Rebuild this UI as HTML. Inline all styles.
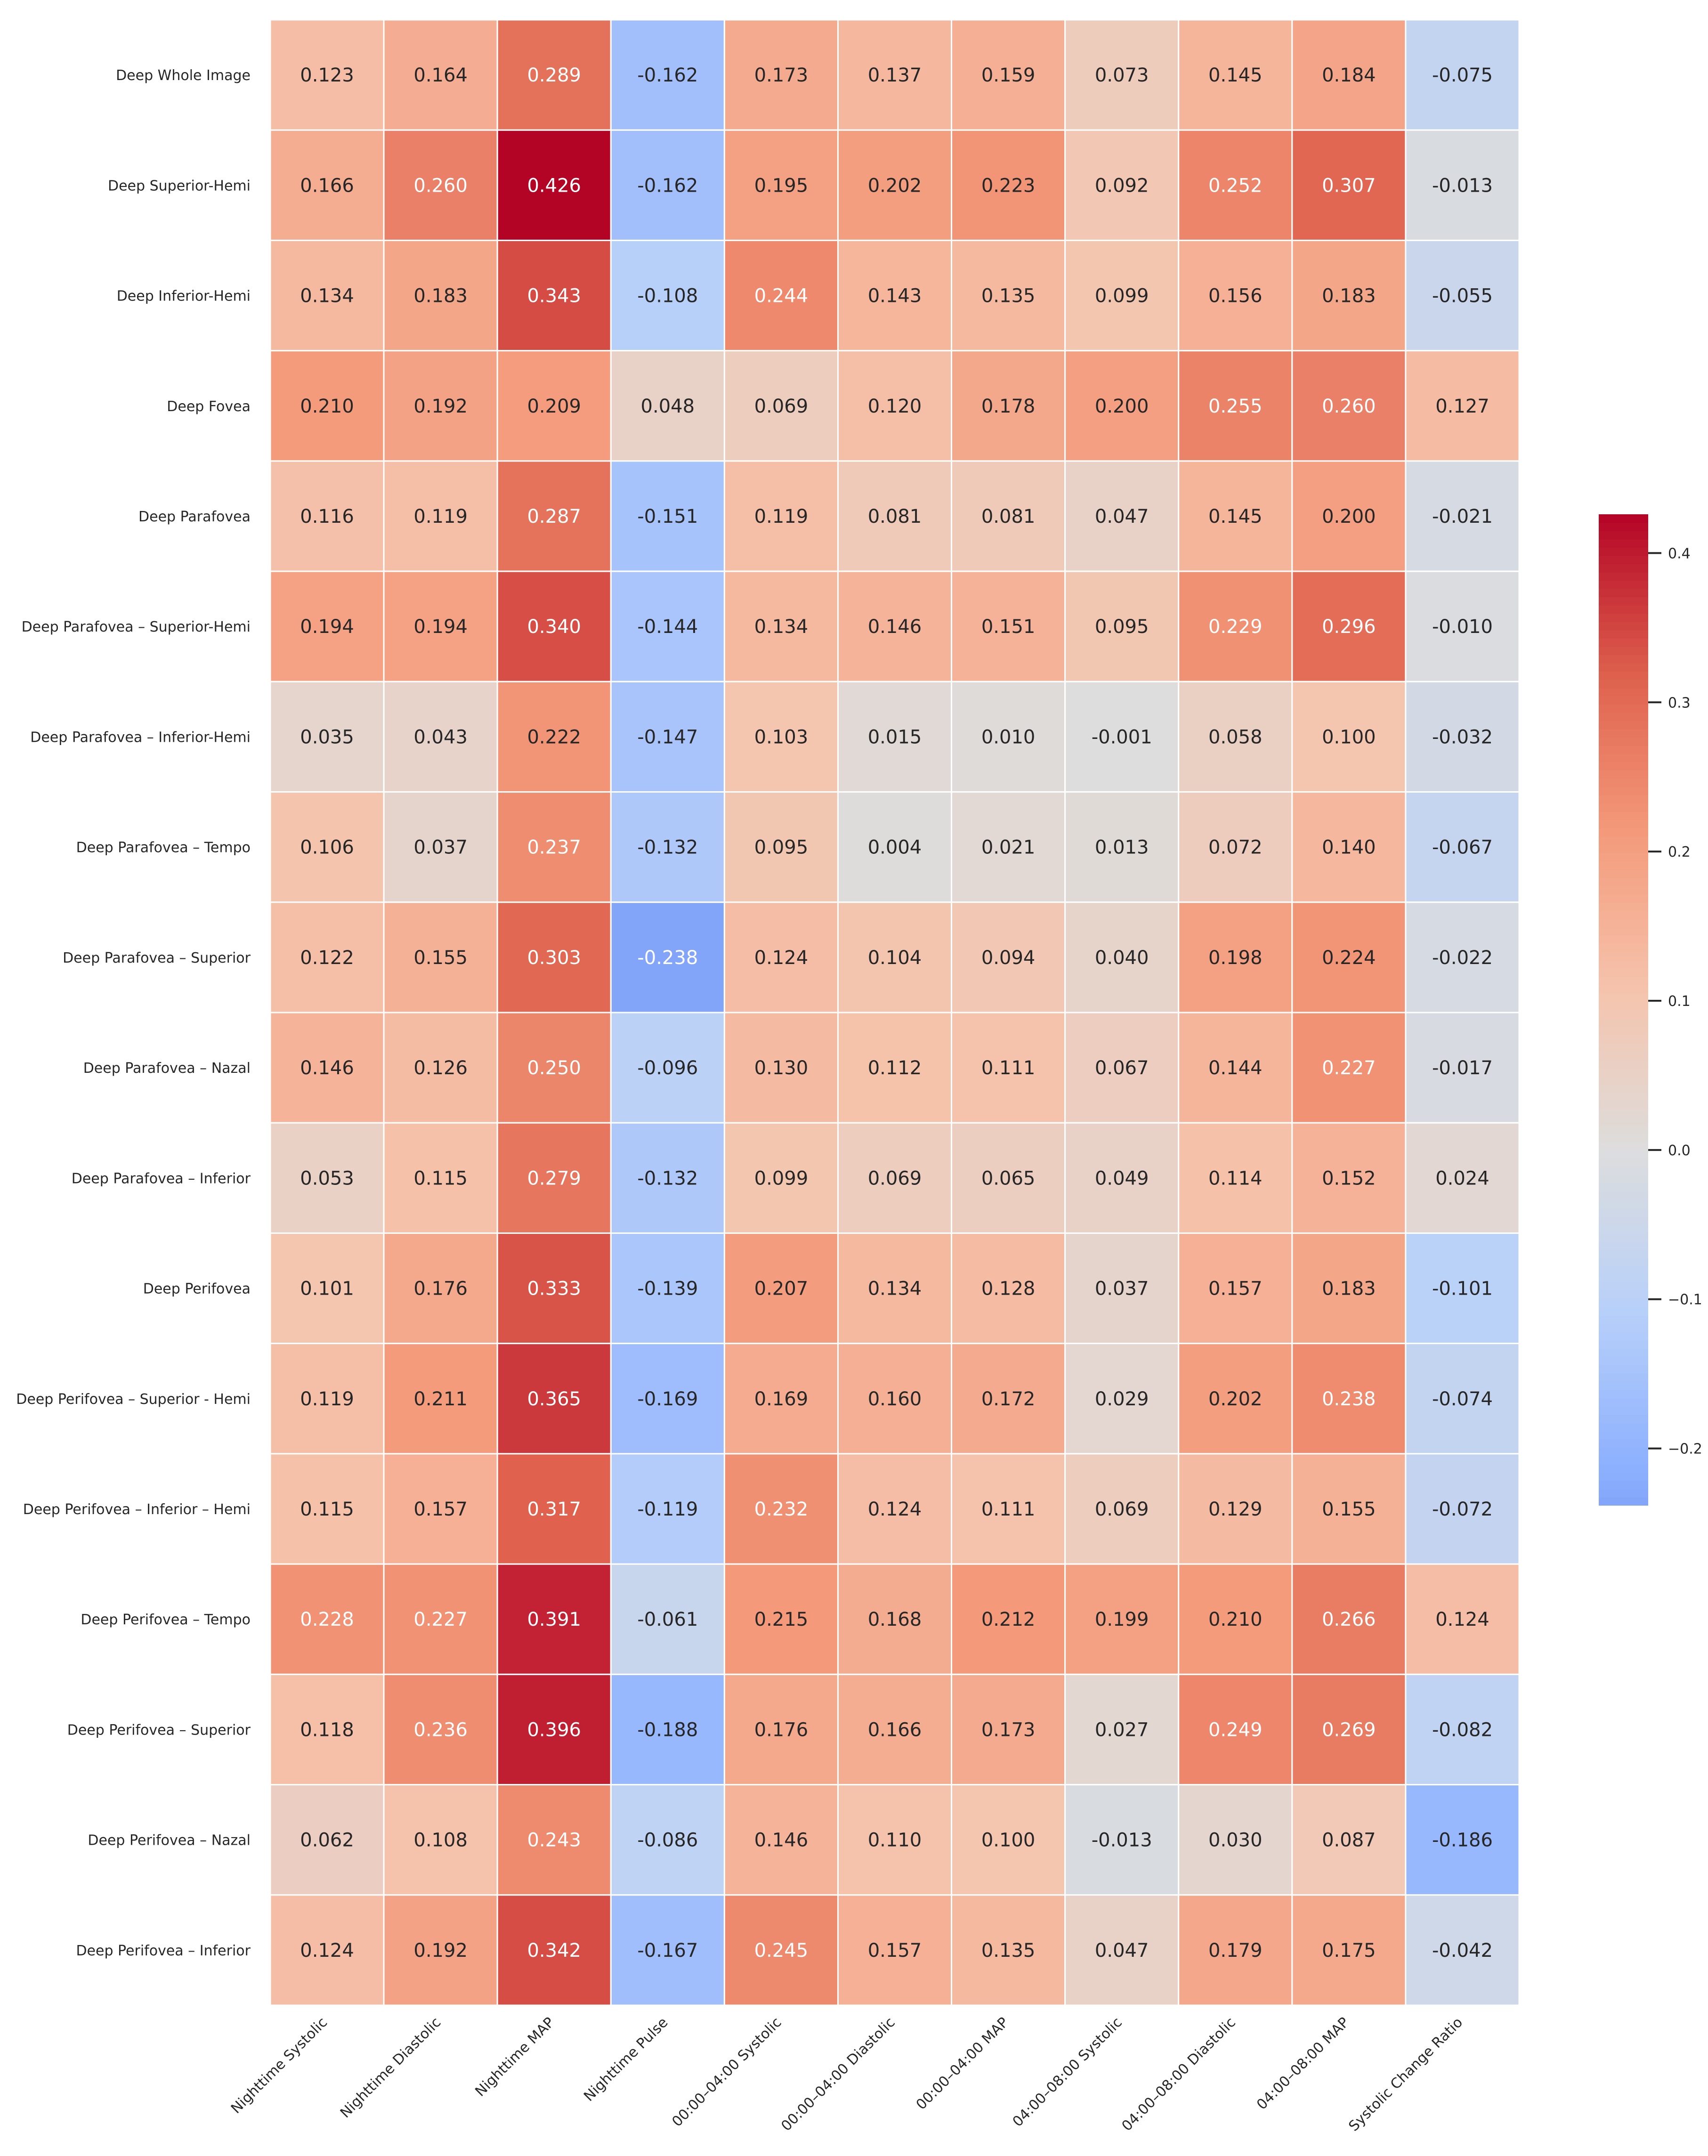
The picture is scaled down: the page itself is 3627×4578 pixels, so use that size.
<!DOCTYPE html>
<html><head><meta charset="utf-8"><style>
html,body{margin:0;padding:0;background:#fff;}
svg text{font-family:"DejaVu Sans","Liberation Sans",sans-serif;}
</style></head><body>
<svg id="chart" width="3627" height="4573" xmlns="http://www.w3.org/2000/svg">
<g id="cells"></g>
<g id="ylabels"></g>
<g id="xlabels"></g>
<g id="cbar"></g>
</svg>
<script>
const rowLabels = ["Deep Whole Image","Deep Superior-Hemi","Deep Inferior-Hemi","Deep Fovea","Deep Parafovea","Deep Parafovea – Superior-Hemi","Deep Parafovea – Inferior-Hemi","Deep Parafovea – Tempo","Deep Parafovea – Superior","Deep Parafovea – Nazal","Deep Parafovea – Inferior","Deep Perifovea","Deep Perifovea – Superior - Hemi","Deep Perifovea – Inferior – Hemi","Deep Perifovea – Tempo","Deep Perifovea – Superior","Deep Perifovea – Nazal","Deep Perifovea – Inferior"];
const colLabels = ["Nighttime Systolic","Nighttime Diastolic","Nighttime MAP","Nighttime Pulse","00:00–04:00 Systolic","00:00–04:00 Diastolic","00:00–04:00 MAP","04:00–08:00 Systolic","04:00–08:00 Diastolic","04:00–08:00 MAP","Systolic Change Ratio"];
const values = [
[0.123,0.164,0.289,-0.162,0.173,0.137,0.159,0.073,0.145,0.184,-0.075],
[0.166,0.260,0.426,-0.162,0.195,0.202,0.223,0.092,0.252,0.307,-0.013],
[0.134,0.183,0.343,-0.108,0.244,0.143,0.135,0.099,0.156,0.183,-0.055],
[0.210,0.192,0.209,0.048,0.069,0.120,0.178,0.200,0.255,0.260,0.127],
[0.116,0.119,0.287,-0.151,0.119,0.081,0.081,0.047,0.145,0.200,-0.021],
[0.194,0.194,0.340,-0.144,0.134,0.146,0.151,0.095,0.229,0.296,-0.010],
[0.035,0.043,0.222,-0.147,0.103,0.015,0.010,-0.001,0.058,0.100,-0.032],
[0.106,0.037,0.237,-0.132,0.095,0.004,0.021,0.013,0.072,0.140,-0.067],
[0.122,0.155,0.303,-0.238,0.124,0.104,0.094,0.040,0.198,0.224,-0.022],
[0.146,0.126,0.250,-0.096,0.130,0.112,0.111,0.067,0.144,0.227,-0.017],
[0.053,0.115,0.279,-0.132,0.099,0.069,0.065,0.049,0.114,0.152,0.024],
[0.101,0.176,0.333,-0.139,0.207,0.134,0.128,0.037,0.157,0.183,-0.101],
[0.119,0.211,0.365,-0.169,0.169,0.160,0.172,0.029,0.202,0.238,-0.074],
[0.115,0.157,0.317,-0.119,0.232,0.124,0.111,0.069,0.129,0.155,-0.072],
[0.228,0.227,0.391,-0.061,0.215,0.168,0.212,0.199,0.210,0.266,0.124],
[0.118,0.236,0.396,-0.188,0.176,0.166,0.173,0.027,0.249,0.269,-0.082],
[0.062,0.108,0.243,-0.086,0.146,0.110,0.100,-0.013,0.030,0.087,-0.186],
[0.124,0.192,0.342,-0.167,0.245,0.157,0.135,0.047,0.179,0.175,-0.042]];
const cbarTicks = [-0.2,-0.1,0.0,0.1,0.2,0.3,0.4];

const NS="http://www.w3.org/2000/svg";
const L=574,R=3226,T=42,B=4258;
const cw=(R-L)/colLabels.length, rh=(B-T)/rowLabels.length;
const flat=values.flat();
const vmax=Math.max(...flat.map(Math.abs)), vmin=-vmax;
const dmin=Math.min(...flat), dmax=Math.max(...flat);
const stops=[[0,[59,76,192]],[0.125,[98,130,234]],[0.25,[141,176,254]],[0.375,[184,208,249]],[0.5,[221,221,221]],[0.625,[245,196,173]],[0.75,[244,154,123]],[0.875,[222,96,77]],[1,[180,4,38]]];
function cmap(v){let t=(v-vmin)/(vmax-vmin);t=Math.max(0,Math.min(1,t));
 for(let i=1;i<stops.length;i++){if(t<=stops[i][0]){const a=stops[i-1],b=stops[i];const f=(t-a[0])/(b[0]-a[0]);return a[1].map((c,k)=>Math.round(c+(b[1][k]-c)*f));}}return stops[8][1];}
function lum(c){const l=c.map(x=>{x/=255;return x<=0.03928?x/12.92:Math.pow((x+0.055)/1.055,2.4);});return 0.2126*l[0]+0.7152*l[1]+0.0722*l[2];}
const xs=j=>L+j*cw, ys=i=>T+i*rh;
function mk(tag,attrs,parent){const e=document.createElementNS(NS,tag);for(const k in attrs)e.setAttribute(k,attrs[k]);parent.appendChild(e);return e;}
const gc=document.getElementById('cells'),gy=document.getElementById('ylabels'),gx=document.getElementById('xlabels'),gb=document.getElementById('cbar');
values.forEach((row,i)=>row.forEach((v,j)=>{
 const c=cmap(v);
 const r=mk('rect',{x:xs(j),y:ys(i),width:cw,height:rh,fill:`rgb(${c})`,stroke:'#fff','stroke-width':3},gc);
 
 
 const t=mk('text',{x:xs(j)+cw/2,y:ys(i)+rh/2+14,'text-anchor':'middle','font-size':40,fill:lum(c)>0.408?'#262626':'#ffffff'},gc);
 t.textContent=v.toFixed(3);
 
 
}));
rowLabels.forEach((s,i)=>{const t=mk('text',{x:L-42,y:ys(i)+rh/2+11,'text-anchor':'end','font-size':30,fill:'#262626'},gy);t.textContent=s;
 
 });
colLabels.forEach((s,j)=>{const cx=xs(j)+cw/2+2,cy=4296;const t=mk('text',{x:cx,y:cy,'text-anchor':'end','font-size':30,fill:'#262626',transform:`rotate(-45 ${cx} ${cy})`},gx);t.textContent=s;
 
 });
// colorbar
const CL=3395,CR=3500,CT=1092,CB=3196;
const cy=v=>CB-(v-dmin)/(dmax-dmin)*(CB-CT);
const N=120;
for(let k=0;k<N;k++){const v0=dmin+(dmax-dmin)*k/N,v1=dmin+(dmax-dmin)*(k+1)/N;const c=cmap((v0+v1)/2);
 const r=mk('rect',{x:CL,y:cy(v1),width:CR-CL,height:cy(v0)-cy(v1)+1,fill:`rgb(${c})`},gb);
 
 }
cbarTicks.forEach(v=>{const y=cy(v);mk('line',{x1:CR,x2:CR+28,y1:y,y2:y,stroke:'#262626','stroke-width':4},gb);
 const t=mk('text',{x:CR+42,y:y+11,'font-size':30,fill:'#262626'},gb);t.textContent=(v<0?'−':'')+Math.abs(v).toFixed(1);
 
 });
</script>
</body></html>
